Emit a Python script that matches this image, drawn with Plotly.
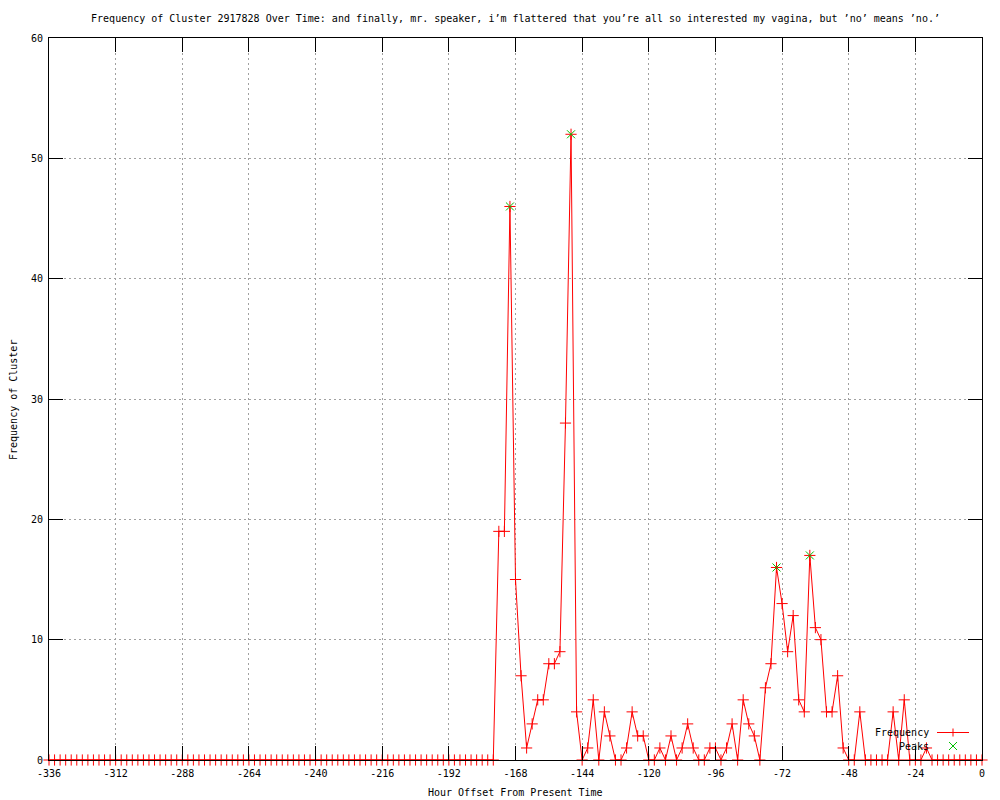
import plotly.graph_objects as go

# ---- data ----
hours = list(range(-336, 1, 2))
freq_before = [
    0, 0, 0, 0, 0, 0, 0, 0, 0, 0, 0, 0, 0, 0, 0, 0, 0, 0, 0, 0,
    0, 0, 0, 0, 0, 0, 0, 0, 0, 0, 0, 0, 0, 0, 0, 0, 0, 0, 0, 0,
    0, 0, 0, 0, 0, 0, 0, 0, 0, 0, 0, 0, 0, 0, 0, 0, 0, 0, 0, 0,
    0, 0, 0, 0, 0, 0, 0, 0, 0, 0, 0, 0, 0, 0, 0, 0, 0, 0, 0, 0,
    0,
]
freq_after = [
    19, 19, 46, 15, 7, 1, 3, 5, 5, 8,
    8, 9, 28, 52, 4, 0, 1, 5, 0, 4,
    2, 0, 0, 1, 4, 2, 2, 0, 0, 1,
    0, 2, 0, 1, 3, 1, 0, 0, 1, 1,
    0, 1, 3, 0, 5, 3, 2, 0, 6, 8,
    16, 13, 9, 12, 5, 4, 17, 11, 10, 4,
    4, 7, 1, 0, 0, 4, 0, 0, 0, 0,
    0, 4, 0, 5, 0, 0, 0, 1, 0, 0,
    0, 0, 0, 0, 0, 0, 0, 0,
]
frequency = freq_before + freq_after
peak_hours = [-170, -148, -74, -62]
peak_values = [46, 52, 16, 17]
x_ticks = [-336, -312, -288, -264, -240, -216, -192, -168, -144, -120, -96, -72, -48, -24, 0]
y_ticks = [0, 10, 20, 30, 40, 50, 60]

title = ("Frequency of Cluster 2917828 Over Time: and finally, mr. speaker, i\u2019m flattered "
         "that you\u2019re all so interested my vagina, but \u2019no\u2019 means \u2019no.\u2019")

FONT = "DejaVu Sans Mono"
RED = "#ff0000"
GREEN = "#00c000"

fig = go.Figure()
fig.add_trace(go.Scatter(
    x=hours, y=frequency, mode="lines+markers", name="Frequency",
    line=dict(color=RED, width=1),
    marker=dict(symbol="cross-thin", size=8, line=dict(color=RED, width=1)),
    cliponaxis=False, showlegend=False,
))
fig.add_trace(go.Scatter(
    x=peak_hours, y=peak_values, mode="markers", name="Peaks",
    marker=dict(symbol="x-thin", size=8, line=dict(color=GREEN, width=1)),
    cliponaxis=False, showlegend=False,
))

# page offset (body margin) and figure size
OFF = 8
FW, FH = 1000 - OFF, 800 - OFF
# plot area in page pixels: x 49..982, y 38..760
L, R, T, B = 49, 982, 38, 760
W, H = R - L, B - T
def px(xp):
    return (xp - L) / W
def py(yp):
    return (B - yp) / H

axis_common = dict(
    showline=True, linecolor="black", linewidth=1, mirror="ticks",
    ticks="inside", ticklen=14, tickcolor="black", tickwidth=1,
    showgrid=True, gridcolor="#a0a0a0", gridwidth=1, griddash="2px,3px",
    zeroline=False, tickfont=dict(family=FONT, size=10, color="black"),
)
fig.update_xaxes(range=[-336, 0], tickvals=x_ticks, ticktext=[str(v) for v in x_ticks],
                 ticklabelstandoff=4, **axis_common)
fig.update_yaxes(range=[0, 60], tickvals=y_ticks, ticktext=[str(v) for v in y_ticks],
                 ticklabelstandoff=3, **axis_common)

annotations = [
    dict(text="Hour Offset From Present Time", x=0.5, y=py(793), xref="paper", yref="paper",
         showarrow=False, xanchor="center", yanchor="middle",
         font=dict(family=FONT, size=10, color="black")),
    dict(text="Frequency of Cluster", x=px(13), y=py(400), xref="paper", yref="paper",
         showarrow=False, xanchor="center", yanchor="middle", textangle=-90,
         font=dict(family=FONT, size=10, color="black")),
    dict(text="Frequency", x=px(931), y=py(732.5), xref="paper", yref="paper",
         showarrow=False, xanchor="right", yanchor="middle",
         font=dict(family=FONT, size=10, color="black")),
    dict(text="Peaks", x=px(931), y=py(746), xref="paper", yref="paper",
         showarrow=False, xanchor="right", yanchor="middle",
         font=dict(family=FONT, size=10, color="black")),
]

mx, my1, my2 = 953, 732.5, 746
d = 4
shapes = [
    dict(type="line", xref="paper", yref="paper", x0=px(937), x1=px(969), y0=py(my1), y1=py(my1),
         line=dict(color=RED, width=1)),
    dict(type="line", xref="paper", yref="paper", x0=px(mx), x1=px(mx), y0=py(my1 - d), y1=py(my1 + d),
         line=dict(color=RED, width=1)),
    dict(type="line", xref="paper", yref="paper", x0=px(mx - d), x1=px(mx + d), y0=py(my2 - d), y1=py(my2 + d),
         line=dict(color=GREEN, width=1)),
    dict(type="line", xref="paper", yref="paper", x0=px(mx - d), x1=px(mx + d), y0=py(my2 + d), y1=py(my2 - d),
         line=dict(color=GREEN, width=1)),
]

fig.update_layout(
    width=FW, height=FH,
    margin=dict(l=L - OFF, r=(OFF + FW) - R, t=T - OFF, b=(OFF + FH) - B, pad=0),
    paper_bgcolor="white", plot_bgcolor="white",
    title=dict(text=title, x=0.5, xref="paper", y=1 - (18 - OFF) / FH, yanchor="middle",
               font=dict(family=FONT, size=10, color="black")),
    annotations=annotations, shapes=shapes,
    showlegend=False,
)

fig.write_html("out.html")
